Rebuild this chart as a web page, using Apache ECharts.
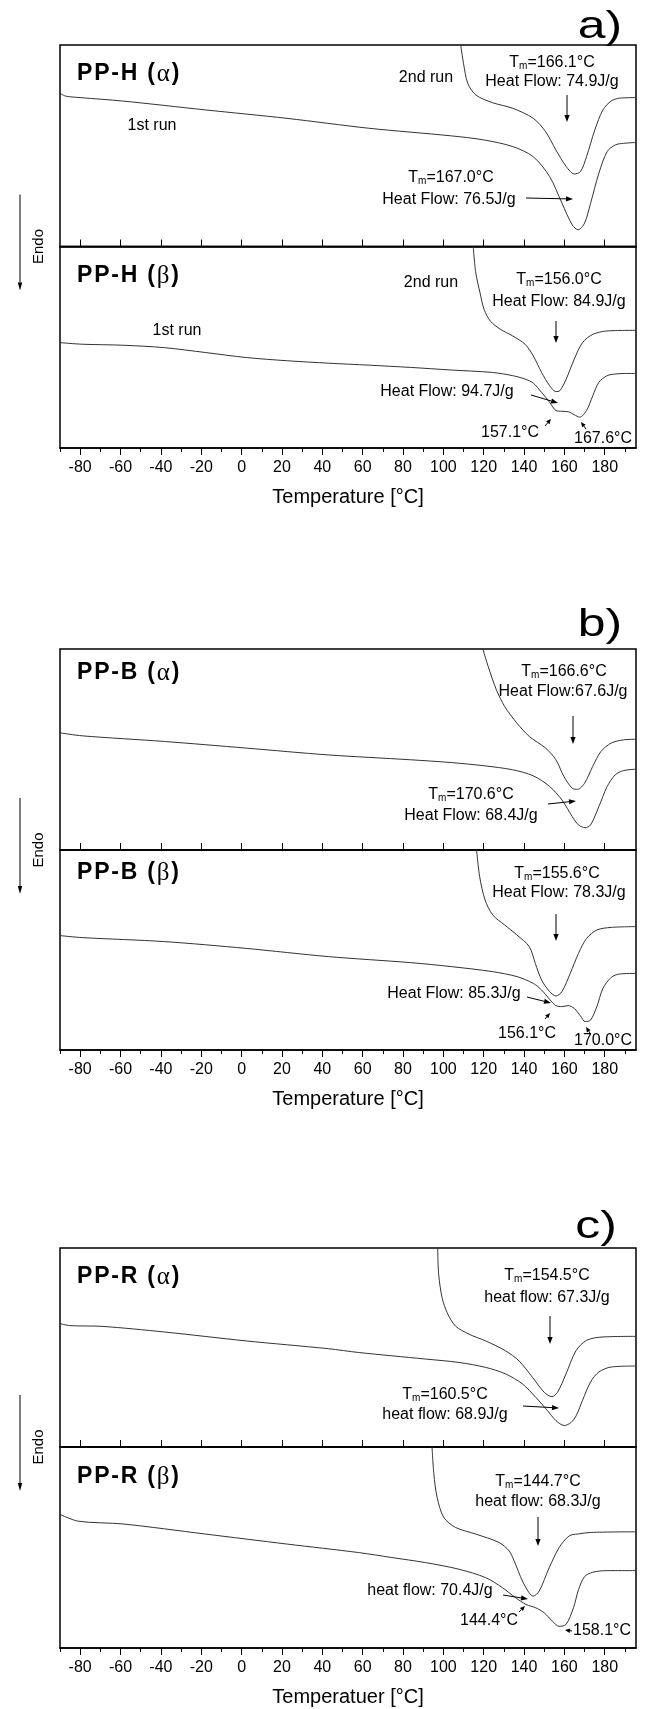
<!DOCTYPE html>
<html>
<head>
<meta charset="utf-8">
<script src="https://cdn.jsdelivr.net/npm/echarts@6/dist/echarts.min.js"></script>
<style>
html,body{margin:0;padding:0;background:#fff;}
#c{width:645px;height:1709px;}
</style>
</head>
<body>
<div id="c"></div>
<script>
// ---------- axis ----------
const X_MIN = -90, X_MAX = 195.5;
const TICK_MAJOR = [-80,-60,-40,-20,0,20,40,60,80,100,120,140,160,180];
const TICK_MINOR = [-90,-70,-50,-30,-10,10,30,50,70,90,110,130,150,170,190];
const AXIS_TITLES = ['Temperature [°C]', 'Temperature [°C]', 'Temperatuer [°C]'];

// ---------- data: [temperature °C, relative heat flow (0 = bottom, 100 = top of sub-panel)] ----------
const ppH_alpha_run1 = [[-90,76.0],[-87,74.6],[-80,73.9],[-59,72.2],[-18,67.8],[22.5,63.6],[63,58.7],[104,54.9],[120,52.9],[134.4,49.6],[144.5,44.6],[152.7,34.7],[158.8,21.5],[163.9,10.7],[166.8,8.3],[170,11.6],[173,21.5],[177.1,36.4],[181.2,47.1],[185.2,50.4],[189.3,51.2],[195.5,51.6]];
const ppH_alpha_run2 = [[108.6,100],[110,90.9],[112.1,81],[116.1,75.2],[124.3,71.4],[134.4,68.6],[144.6,63.6],[150.7,57],[155.8,47.9],[160.9,39.7],[164.9,36],[168,37.2],[171,44.6],[175.1,57.9],[179.1,67.8],[183.2,72.2],[187.3,73.6],[195.5,73.9]];
const ppH_beta_run1 = [[-90,52.3],[-79,51.5],[-58.7,51.0],[-38.3,49.8],[-18,47.4],[2.3,44.9],[22.6,43.3],[43,42.1],[63.3,41.1],[83.6,40.0],[103.9,38.7],[124.3,37.5],[134.4,35.9],[140.5,34.2],[144.6,32.2],[148.7,27.6],[152.7,22.7],[155.8,18.6],[158.8,18.2],[161.9,18.0],[164.9,16.5],[167.6,15.3],[171,18.6],[174.1,26],[177.1,32.6],[181.2,35.9],[185.2,36.7],[190,37],[195.5,37]];
const ppH_beta_run2 = [[114.8,100],[116.1,86.8],[118.2,77],[120.2,68.8],[123.3,63],[128.3,58.9],[134.4,55.6],[140.5,51.5],[144.6,45.7],[148.7,37.5],[152.7,30.9],[155.8,28],[157.8,28.5],[160.9,34.2],[164.9,44.1],[169,52.3],[174.1,56.4],[181.2,58.1],[195.5,58.4]];

const ppB_alpha_run1 = [[-90,58.3],[-79,56.8],[-38.3,54.0],[2.3,50.7],[43,47.3],[83.6,44.9],[103.9,43.5],[120.2,41.9],[134.4,39.9],[144.6,36.9],[152.7,31.6],[158.8,24.9],[163.9,16.6],[167,12.5],[170.3,11.1],[173,12.5],[177.1,21.6],[181.2,31.6],[185.2,37.4],[189.3,39.5],[195.5,40.2]];
const ppB_alpha_run2 = [[119.6,100],[122.2,91.4],[126.3,79.7],[130.4,71.4],[136.5,63.1],[142.6,56.5],[150.7,50.7],[155.8,44.9],[159.8,36.5],[163.9,30.7],[166.5,30.2],[170,33.2],[174,41.5],[178.1,49],[183.2,53.2],[189.3,54.8],[195.5,55.1]];
const ppB_beta_run1 = [[-90,57.2],[-79,56.2],[-38.3,54.2],[2.3,50.8],[43,46.7],[83.6,43.7],[103.9,41.7],[124.3,39.2],[136.5,36.7],[144.6,33.3],[148.7,30.0],[152.7,25.3],[155.8,22.2],[158.8,21.7],[161.9,22.2],[164.9,20.8],[168,17.0],[170.3,14.2],[173,15.0],[176.1,21.7],[179.1,30.8],[183.2,36.3],[187.3,38.0],[195.5,38.3]];
const ppB_beta_run2 = [[116.5,100],[118,86.7],[120.7,75],[124.5,67.5],[130.4,62.5],[136.5,57.5],[142.6,51.7],[145.6,43.3],[148.7,35],[152.7,29.2],[155.8,27],[158.8,29.2],[162.9,38.3],[167,48.3],[171,55.8],[176.1,60],[183.2,61.3],[195.5,61.7]];

const ppR_alpha_run1 = [[-90,62.0],[-85.1,61.0],[-68.8,60.6],[-38.3,57.8],[2.3,53.3],[43,49.4],[57.9,47.5],[91.1,44.2],[107.7,42.5],[121,40],[130.9,36.7],[139.2,31.7],[145.8,25],[151.6,18.3],[155.8,13.3],[159.9,10.8],[163.3,12.3],[166,16],[169,23.5],[173,32.7],[177.1,37.7],[183.2,40.2],[195.5,40.7]];
const ppR_alpha_run2 = [[97.2,100],[97.7,86.7],[99.4,75],[101.9,67.5],[106,60.8],[112.7,56.7],[121,53.3],[130.9,48.3],[137.5,43.3],[144.2,35],[150,27.5],[153.8,25.3],[156.6,27.5],[160.8,36.7],[165.7,48.3],[171,53.6],[179.1,55.3],[195.5,55.6]];
const ppR_beta_run1 = [[-90,66.5],[-81,63.1],[-58.7,61.7],[-18,56.7],[22.6,51.7],[57.9,47.5],[74.5,45],[91.1,42.5],[107.7,39.2],[121,35],[129.3,30],[135.9,25],[140.9,21.7],[145.8,20],[150,17.5],[154.1,13.3],[157.4,10.8],[160.8,11.7],[164.5,20],[167,29],[170,35.5],[174.1,37.7],[181.2,38.5],[195.5,38.5]];
const ppR_beta_run2 = [[94.4,100],[95.3,86.7],[96.9,75],[100.2,65],[106,60],[116,56.7],[127.6,52.5],[132.6,48.3],[135.1,43.3],[139.2,33.3],[142.5,27.5],[144.5,25.8],[147.5,28.3],[152.5,40],[157.4,50],[162.4,55.8],[166.6,56.7],[173,57.5],[195.5,57.8]];

const CURVES = [
  [ppH_alpha_run1, ppH_alpha_run2], [ppH_beta_run1, ppH_beta_run2],
  [ppB_alpha_run1, ppB_alpha_run2], [ppB_beta_run1, ppB_beta_run2],
  [ppR_alpha_run1, ppR_alpha_run2], [ppR_beta_run1, ppR_beta_run2]
];

// ---------- layout ----------
const GRID_LEFT = 60, GRID_W = 576;
const PANELS = [
  {top: 45,   mid: 246.5, bottom: 448,  tag: 'a)', tagX: 600, tagY: 27},
  {top: 649,  mid: 850,   bottom: 1050, tag: 'b)', tagX: 600, tagY: 625},
  {top: 1248, mid: 1447,  bottom: 1648, tag: 'c)', tagX: 596, tagY: 1227}
];
const FONT = '"Liberation Sans", Arial, sans-serif';

const grids = [], xAxes = [], yAxes = [], series = [];
PANELS.forEach((p, i) => {
  grids.push({left: GRID_LEFT, width: GRID_W, top: p.top, height: p.mid - p.top, show: true, borderColor: '#000', borderWidth: 1.5, backgroundColor: 'transparent'});
  grids.push({left: GRID_LEFT, width: GRID_W, top: p.mid, height: p.bottom - p.mid, show: true, borderColor: '#000', borderWidth: 1.5, backgroundColor: 'transparent'});
  const gU = 2 * i, gL = 2 * i + 1;
  xAxes.push({type: 'value', gridIndex: gU, position: 'bottom', min: X_MIN, max: X_MAX,
    axisLine: {show: true, lineStyle: {color: '#000', width: 1.5}},
    axisTick: {show: true, inside: true, length: 7, customValues: TICK_MAJOR, lineStyle: {color: '#000', width: 1}},
    axisLabel: {show: false}, splitLine: {show: false}});
  xAxes.push({type: 'value', gridIndex: gL, position: 'bottom', min: X_MIN, max: X_MAX,
    name: AXIS_TITLES[i], nameLocation: 'middle', nameGap: 39,
    nameTextStyle: {fontFamily: FONT, fontSize: 20, color: '#000'},
    axisLine: {show: true, lineStyle: {color: '#000', width: 1.5}},
    axisTick: {show: true, inside: false, length: 7, customValues: TICK_MAJOR, lineStyle: {color: '#000', width: 1}},
    axisLabel: {show: true, customValues: TICK_MAJOR, margin: 12, fontFamily: FONT, fontSize: 16, color: '#000'},
    splitLine: {show: false}});
  xAxes.push({type: 'value', gridIndex: gL, position: 'bottom', offset: 0, min: X_MIN, max: X_MAX,
    axisLine: {show: false},
    axisTick: {show: true, inside: false, length: 4, customValues: TICK_MINOR, lineStyle: {color: '#000', width: 1}},
    axisLabel: {show: false}, splitLine: {show: false}});
  yAxes.push({type: 'value', gridIndex: gU, min: 0, max: 100, show: false});
  yAxes.push({type: 'value', gridIndex: gL, min: 0, max: 100, show: false});
});

CURVES.forEach((pair, g) => {
  const panel = Math.floor(g / 2);
  const xIdx = g % 2 === 0 ? panel * 3 : panel * 3 + 1;
  pair.forEach(d => {
    series.push({type: 'line', xAxisIndex: xIdx, yAxisIndex: g, data: d, showSymbol: false,
      smooth: 0.3, clip: true, silent: true, animation: false,
      lineStyle: {color: '#333', width: 1}});
  });
});

// ---------- annotations (pixel positions) ----------
const G = [];
function text(x, y, s, size, align) {
  G.push({type: 'text', x: x, y: y, z: 100, style: {text: s, font: (size || 16) + 'px ' + FONT, fill: '#000', textAlign: align || 'center', textVerticalAlign: 'middle'}});
}
function tm(x, y, val) {
  G.push({type: 'text', x: x, y: y, z: 100, style: {
    text: '{t|T}{s|m}{t|=' + val + '°C}', fill: '#000', textAlign: 'center', textVerticalAlign: 'middle',
    rich: {t: {fontFamily: FONT, fontSize: 16, lineHeight: 18, verticalAlign: 'bottom', fill: '#000'},
           s: {fontFamily: FONT, fontSize: 10, lineHeight: 6, verticalAlign: 'bottom', fill: '#000'}}}});
}
function label(y, name, greek) {
  const toks = (name + ' (').split('').map(c => '{b|' + c + '}').join('') + '{g|' + greek + '}{b|)}';
  G.push({type: 'text', x: 77, y: y, z: 100, style: {
    text: toks, fill: '#000', textAlign: 'left', textVerticalAlign: 'middle',
    rich: {b: {fontFamily: FONT, fontSize: 23, fontWeight: 'bold', fill: '#000', padding: [0, 1.8, 0, 0]},
           g: {fontFamily: '"Liberation Serif", serif', fontSize: 25, fill: '#000', padding: [0, 1.8, 0, 0]}}}});
}
function arrow(x1, y1, x2, y2, hl, hw) {
  hl = hl || 7; hw = hw || 2.6;
  const dx = x2 - x1, dy = y2 - y1, L = Math.sqrt(dx * dx + dy * dy), ux = dx / L, uy = dy / L;
  const bx = x2 - ux * hl, by = y2 - uy * hl;
  G.push({type: 'line', z: 100, shape: {x1: x1, y1: y1, x2: bx, y2: by}, style: {stroke: '#000', lineWidth: 1}});
  G.push({type: 'polygon', z: 100, shape: {points: [[x2, y2], [bx - uy * hw, by + ux * hw], [bx + uy * hw, by - ux * hw]]}, style: {fill: '#000'}});
}

PANELS.forEach(p => {
  G.push({type: 'text', x: p.tagX, y: p.tagY, scaleX: 1.28, z: 100, style: {text: p.tag, font: '39px ' + FONT, fill: '#000', textAlign: 'center', textVerticalAlign: 'middle'}});
  arrow(20, p.mid - 52, 20, p.mid + 44, 8, 2.2);
  G.push({type: 'text', x: 39, y: p.mid, rotation: Math.PI / 2, z: 100, style: {text: 'Endo', font: '15px ' + FONT, fill: '#000', textAlign: 'center', textVerticalAlign: 'middle'}});
});

// panel a
label(74, 'PP-H', 'α');
text(426, 78, '2nd run'); text(152, 126, '1st run');
tm(552, 62, '166.1'); text(552, 82, 'Heat Flow: 74.9J/g');
arrow(567, 95, 567, 122);
tm(451, 177, '167.0'); text(449, 200, 'Heat Flow: 76.5J/g');
arrow(526, 198, 573, 199);
label(276, 'PP-H', 'β');
text(431, 283, '2nd run'); text(177, 331, '1st run');
tm(559, 279, '156.0'); text(559, 302, 'Heat Flow: 84.9J/g');
arrow(556, 321, 556, 343);
text(447, 392, 'Heat Flow: 94.7J/g');
arrow(531, 395, 558, 403);
text(510, 433, '157.1°C'); arrow(545, 426, 551, 419, 5, 2.2);
text(603, 439, '167.6°C'); arrow(586, 429, 581, 422, 5, 2.2);

// panel b
label(673, 'PP-B', 'α');
tm(564, 671, '166.6'); text(563, 692, 'Heat Flow:67.6J/g');
arrow(573, 716, 573, 744);
tm(471, 794, '170.6'); text(471, 816, 'Heat Flow: 68.4J/g');
arrow(548, 804, 576, 801);
label(873, 'PP-B', 'β');
tm(557, 873, '155.6'); text(559, 893, 'Heat Flow: 78.3J/g');
arrow(556, 914, 556, 941);
text(454, 994, 'Heat Flow: 85.3J/g');
arrow(527, 997, 551, 1003);
text(527, 1034, '156.1°C'); arrow(545, 1019, 550, 1013, 5, 2.2);
text(603, 1041, '170.0°C'); arrow(590, 1033, 586, 1027, 5, 2.2);

// panel c
label(1277, 'PP-R', 'α');
tm(547, 1275, '154.5'); text(547, 1298, 'heat flow: 67.3J/g');
arrow(550, 1316, 550, 1344);
tm(445, 1394, '160.5'); text(445, 1415, 'heat flow: 68.9J/g');
arrow(523, 1406, 559, 1408);
label(1477, 'PP-R', 'β');
tm(538, 1481, '144.7'); text(538, 1502, 'heat flow: 68.3J/g');
arrow(538, 1517, 538, 1546);
text(430, 1591, 'heat flow: 70.4J/g');
arrow(503, 1595, 528, 1599);
text(489, 1621, '144.4°C'); arrow(519, 1612, 525, 1606, 5, 2.2);
text(602, 1631, '158.1°C'); arrow(572, 1631, 565, 1630, 5, 2.2);

const chart = echarts.init(document.getElementById('c'), null, {renderer: 'canvas'});
chart.setOption({
  backgroundColor: '#fff',
  animation: false,
  grid: grids, xAxis: xAxes, yAxis: yAxes, series: series,
  graphic: {elements: G}
});
</script>
</body>
</html>
